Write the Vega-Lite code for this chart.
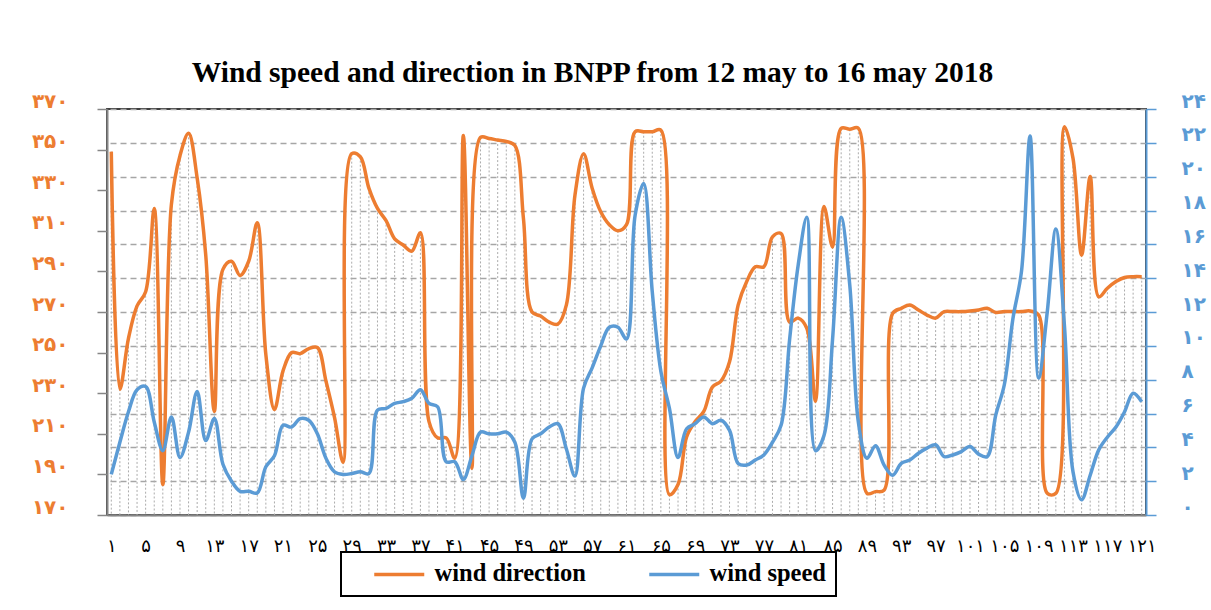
{
  "$schema": "https://vega.github.io/schema/vega-lite/v6.json",
  "width": 1039,
  "height": 406,
  "autosize": {"type": "none"},
  "padding": {"left": 107, "top": 109, "right": 65, "bottom": 95},
  "background": "white",
  "title": {
    "text": "Wind speed and direction in BNPP from 12 may to 16 may 2018",
    "font": "Liberation Serif",
    "fontSize": 29.5,
    "fontWeight": "bold",
    "color": "black",
    "anchor": "middle",
    "frame": "group",
    "dx": -34,
    "offset": 3
  },
  "config": {
    "view": {"stroke": "#404040", "strokeWidth": 2},
    "legend": {"strokeWidth": 2}
  },
  "data": {
    "values": [
      {"t": 1, "dir": 349, "speed": 2.4},
      {"t": 2, "dir": 232, "speed": 4.3},
      {"t": 3, "dir": 257, "speed": 6.1},
      {"t": 4, "dir": 273, "speed": 7.4},
      {"t": 5, "dir": 280, "speed": 7.6},
      {"t": 6, "dir": 321, "speed": 5.5},
      {"t": 7, "dir": 185, "speed": 3.8},
      {"t": 8, "dir": 323, "speed": 5.8},
      {"t": 9, "dir": 347, "speed": 3.4},
      {"t": 10, "dir": 358, "speed": 4.9},
      {"t": 11, "dir": 336, "speed": 7.3},
      {"t": 12, "dir": 298, "speed": 4.4},
      {"t": 13, "dir": 221, "speed": 5.7},
      {"t": 14, "dir": 291, "speed": 3.0},
      {"t": 15, "dir": 295, "speed": 2.0},
      {"t": 16, "dir": 288, "speed": 1.4},
      {"t": 17, "dir": 295, "speed": 1.4},
      {"t": 18, "dir": 314, "speed": 1.3},
      {"t": 19, "dir": 249, "speed": 2.85},
      {"t": 20, "dir": 222, "speed": 3.5},
      {"t": 21, "dir": 241, "speed": 5.3},
      {"t": 22, "dir": 250, "speed": 5.2},
      {"t": 23, "dir": 249.5, "speed": 5.7},
      {"t": 24, "dir": 252, "speed": 5.6},
      {"t": 25, "dir": 252.5, "speed": 4.8},
      {"t": 26, "dir": 236, "speed": 3.35},
      {"t": 27, "dir": 218, "speed": 2.55},
      {"t": 28, "dir": 196, "speed": 2.4},
      {"t": 29, "dir": 348, "speed": 2.45},
      {"t": 30, "dir": 346.5, "speed": 2.55},
      {"t": 31, "dir": 331, "speed": 2.45},
      {"t": 32, "dir": 321, "speed": 6.2},
      {"t": 33, "dir": 315, "speed": 6.3},
      {"t": 34, "dir": 306, "speed": 6.6},
      {"t": 35, "dir": 303, "speed": 6.7},
      {"t": 36, "dir": 300, "speed": 6.9},
      {"t": 37, "dir": 309, "speed": 7.4},
      {"t": 38, "dir": 216, "speed": 6.6},
      {"t": 39, "dir": 208, "speed": 6.4},
      {"t": 40, "dir": 208, "speed": 3.15},
      {"t": 41, "dir": 198, "speed": 3.15},
      {"t": 42, "dir": 357, "speed": 2.1},
      {"t": 43, "dir": 193, "speed": 3.5},
      {"t": 44, "dir": 356, "speed": 4.9},
      {"t": 45, "dir": 355.5, "speed": 4.8},
      {"t": 46, "dir": 354.7, "speed": 4.8},
      {"t": 47, "dir": 354, "speed": 4.9},
      {"t": 48, "dir": 352, "speed": 4.3},
      {"t": 49, "dir": 316, "speed": 1.0},
      {"t": 50, "dir": 270, "speed": 4.5},
      {"t": 51, "dir": 268, "speed": 4.8},
      {"t": 52, "dir": 265, "speed": 5.2},
      {"t": 53, "dir": 264, "speed": 5.4},
      {"t": 54, "dir": 273.5, "speed": 3.9},
      {"t": 55, "dir": 327.6, "speed": 2.3},
      {"t": 56, "dir": 348, "speed": 7.5},
      {"t": 57, "dir": 331, "speed": 8.7},
      {"t": 58, "dir": 319.4, "speed": 10.0},
      {"t": 59, "dir": 313, "speed": 11.1},
      {"t": 60, "dir": 310, "speed": 11.1},
      {"t": 61, "dir": 313, "speed": 10.4},
      {"t": 62, "dir": 358.8, "speed": 17.7},
      {"t": 63, "dir": 358.8, "speed": 19.6},
      {"t": 64, "dir": 358.8, "speed": 13.2},
      {"t": 65, "dir": 359.6, "speed": 8.5},
      {"t": 66, "dir": 180, "speed": 6.3},
      {"t": 67, "dir": 185, "speed": 3.4},
      {"t": 68, "dir": 208.5, "speed": 5.1},
      {"t": 69, "dir": 216, "speed": 5.4},
      {"t": 70, "dir": 221, "speed": 5.8},
      {"t": 71, "dir": 233, "speed": 5.4},
      {"t": 72, "dir": 236, "speed": 5.6},
      {"t": 73, "dir": 245.5, "speed": 5.0},
      {"t": 74, "dir": 273.4, "speed": 3.05},
      {"t": 75, "dir": 285, "speed": 2.95},
      {"t": 76, "dir": 292.3, "speed": 3.25},
      {"t": 77, "dir": 292.3, "speed": 3.55},
      {"t": 78, "dir": 307, "speed": 4.3},
      {"t": 79, "dir": 308.7, "speed": 5.3},
      {"t": 80, "dir": 265, "speed": 10.4},
      {"t": 81, "dir": 267, "speed": 14.8},
      {"t": 82, "dir": 262, "speed": 17.6},
      {"t": 83, "dir": 226, "speed": 3.8},
      {"t": 84, "dir": 322, "speed": 4.7},
      {"t": 85, "dir": 302, "speed": 10.4},
      {"t": 86, "dir": 360.5, "speed": 17.6},
      {"t": 87, "dir": 360, "speed": 13.6},
      {"t": 88, "dir": 360.5, "speed": 5.5},
      {"t": 89, "dir": 180.7, "speed": 3.35},
      {"t": 90, "dir": 181.5, "speed": 4.1},
      {"t": 91, "dir": 182.3, "speed": 2.95},
      {"t": 92, "dir": 269.3, "speed": 2.35},
      {"t": 93, "dir": 271.8, "speed": 3.05},
      {"t": 94, "dir": 273.4, "speed": 3.25},
      {"t": 95, "dir": 271, "speed": 3.65},
      {"t": 96, "dir": 268.5, "speed": 3.95},
      {"t": 97, "dir": 267, "speed": 4.15},
      {"t": 98, "dir": 270.2, "speed": 3.45},
      {"t": 99, "dir": 270.2, "speed": 3.55},
      {"t": 100, "dir": 270.2, "speed": 3.75},
      {"t": 101, "dir": 270.5, "speed": 4.05},
      {"t": 102, "dir": 271, "speed": 3.6},
      {"t": 103, "dir": 271.8, "speed": 3.45},
      {"t": 104, "dir": 269.8, "speed": 5.9},
      {"t": 105, "dir": 270.2, "speed": 7.7},
      {"t": 106, "dir": 270.2, "speed": 11.6},
      {"t": 107, "dir": 270.2, "speed": 14.4},
      {"t": 108, "dir": 270.5, "speed": 22.4},
      {"t": 109, "dir": 268.5, "speed": 8.1},
      {"t": 110, "dir": 180.7, "speed": 12.0},
      {"t": 111, "dir": 180.7, "speed": 16.9},
      {"t": 112, "dir": 361.3, "speed": 11.2},
      {"t": 113, "dir": 345.7, "speed": 2.55},
      {"t": 114, "dir": 298, "speed": 0.9},
      {"t": 115, "dir": 336.7, "speed": 2.35},
      {"t": 116, "dir": 277.5, "speed": 3.85},
      {"t": 117, "dir": 281.7, "speed": 4.6},
      {"t": 118, "dir": 285, "speed": 5.2},
      {"t": 119, "dir": 287, "speed": 6.1},
      {"t": 120, "dir": 287.4, "speed": 7.2},
      {"t": 121, "dir": 287.4, "speed": 6.7}
    ]
  },
  "encoding": {
    "x": {
      "field": "t",
      "type": "quantitative",
      "scale": {"domain": [0.5, 121.5], "nice": false, "zero": false},
      "axis": {
        "title": null,
        "values": [1, 5, 9, 13, 17, 21, 25, 29, 33, 37, 41, 45, 49, 53, 57, 61, 65, 69, 73, 77, 81, 85, 89, 93, 97, 101, 105, 109, 113, 117, 121],
        "labelExpr": "replace(replace(replace(replace(replace(replace(replace(replace(replace(replace(''+datum.value,regexp('0','g'),'۰'),regexp('1','g'),'۱'),regexp('2','g'),'۲'),regexp('3','g'),'۳'),regexp('4','g'),'۴'),regexp('5','g'),'۵'),regexp('6','g'),'۶'),regexp('7','g'),'۷'),regexp('8','g'),'۸'),regexp('9','g'),'۹')",
        "labelFont": "DejaVu Sans",
        "labelFontSize": 18,
        "labelColor": "black",
        "labelPadding": 22,
        "labelOverlap": false,
        "labelFlush": false,
        "ticks": false,
        "grid": false,
        "domainColor": "#868686",
        "domainWidth": 2
      }
    }
  },
  "layer": [
    {
      "layer": [
        {
          "mark": {"type": "rule", "color": "#ABABAB", "strokeWidth": 1, "strokeDash": [2, 2]},
          "encoding": {
            "y": {
              "field": "dir",
              "type": "quantitative",
              "scale": {"domain": [170, 370], "nice": false, "zero": false},
              "axis": {
                "title": null,
                "orient": "left",
                "values": [170, 190, 210, 230, 250, 270, 290, 310, 330, 350, 370],
                "labelExpr": "replace(replace(replace(replace(replace(replace(replace(replace(replace(replace(''+datum.value,regexp('0','g'),'۰'),regexp('1','g'),'۱'),regexp('2','g'),'۲'),regexp('3','g'),'۳'),regexp('4','g'),'۴'),regexp('5','g'),'۵'),regexp('6','g'),'۶'),regexp('7','g'),'۷'),regexp('8','g'),'۸'),regexp('9','g'),'۹')",
                "labelFont": "DejaVu Sans",
                "labelFontSize": 20,
                "labelFontWeight": "bold",
                "labelColor": "#ED7D31",
                "labelPadding": 29,
                "labelOffset": -8,
                "tickSize": 10,
                "tickColor": "#868686",
                "tickWidth": 1.5,
                "domainColor": "#868686",
                "domainWidth": 2,
                "grid": false
              }
            },
            "y2": {"datum": 170}
          }
        },
        {
          "mark": {"type": "line", "interpolate": "catmull-rom", "strokeWidth": 3.5},
          "encoding": {
            "y": {
              "field": "dir",
              "type": "quantitative",
              "scale": {"domain": [170, 370], "nice": false, "zero": false}
            },
            "color": {
              "datum": "wind direction",
              "type": "nominal",
              "scale": {"domain": ["wind direction", "wind speed"], "range": ["#ED7D31", "#5B9BD5"]},
              "legend": {
                "title": null,
                "orient": "none",
                "legendX": 234,
                "legendY": 443,
                "direction": "horizontal",
                "strokeColor": "black",
                "padding": 10,
                "symbolType": "M-2.5,0H2.5",
                "symbolSize": 400,
                "symbolStrokeWidth": 3.5,
                "symbolOffset": 36,
                "labelOffset": 23,
                "labelFont": "Liberation Serif",
                "labelFontSize": 24.5,
                "labelFontWeight": "bold",
                "labelColor": "black",
                "labelLimit": 400,
                "columnPadding": 40
              }
            }
          }
        }
      ]
    },
    {
      "mark": {"type": "line", "interpolate": "catmull-rom", "strokeWidth": 3.5},
      "encoding": {
        "y": {
          "field": "speed",
          "type": "quantitative",
          "scale": {"domain": [0, 24], "nice": false},
          "axis": {
            "title": null,
            "orient": "right",
            "values": [0, 2, 4, 6, 8, 10, 12, 14, 16, 18, 20, 22, 24],
            "labelExpr": "replace(replace(replace(replace(replace(replace(replace(replace(replace(replace(''+datum.value,regexp('0','g'),'۰'),regexp('1','g'),'۱'),regexp('2','g'),'۲'),regexp('3','g'),'۳'),regexp('4','g'),'۴'),regexp('5','g'),'۵'),regexp('6','g'),'۶'),regexp('7','g'),'۷'),regexp('8','g'),'۸'),regexp('9','g'),'۹')",
            "labelFont": "DejaVu Sans",
            "labelFontSize": 20,
            "labelFontWeight": "bold",
            "labelColor": "#5B9BD5",
            "labelPadding": 25,
            "labelOffset": -8,
            "tickSize": 10,
            "tickColor": "#5B9BD5",
            "tickWidth": 1.5,
            "domainColor": "#5B9BD5",
            "domainWidth": 2,
            "grid": true,
            "gridColor": "#A6A6A6",
            "gridDash": [6, 4],
            "gridWidth": 1.3
          }
        },
        "color": {"datum": "wind speed", "type": "nominal"}
      }
    }
  ],
  "resolve": {"scale": {"y": "independent"}}
}
